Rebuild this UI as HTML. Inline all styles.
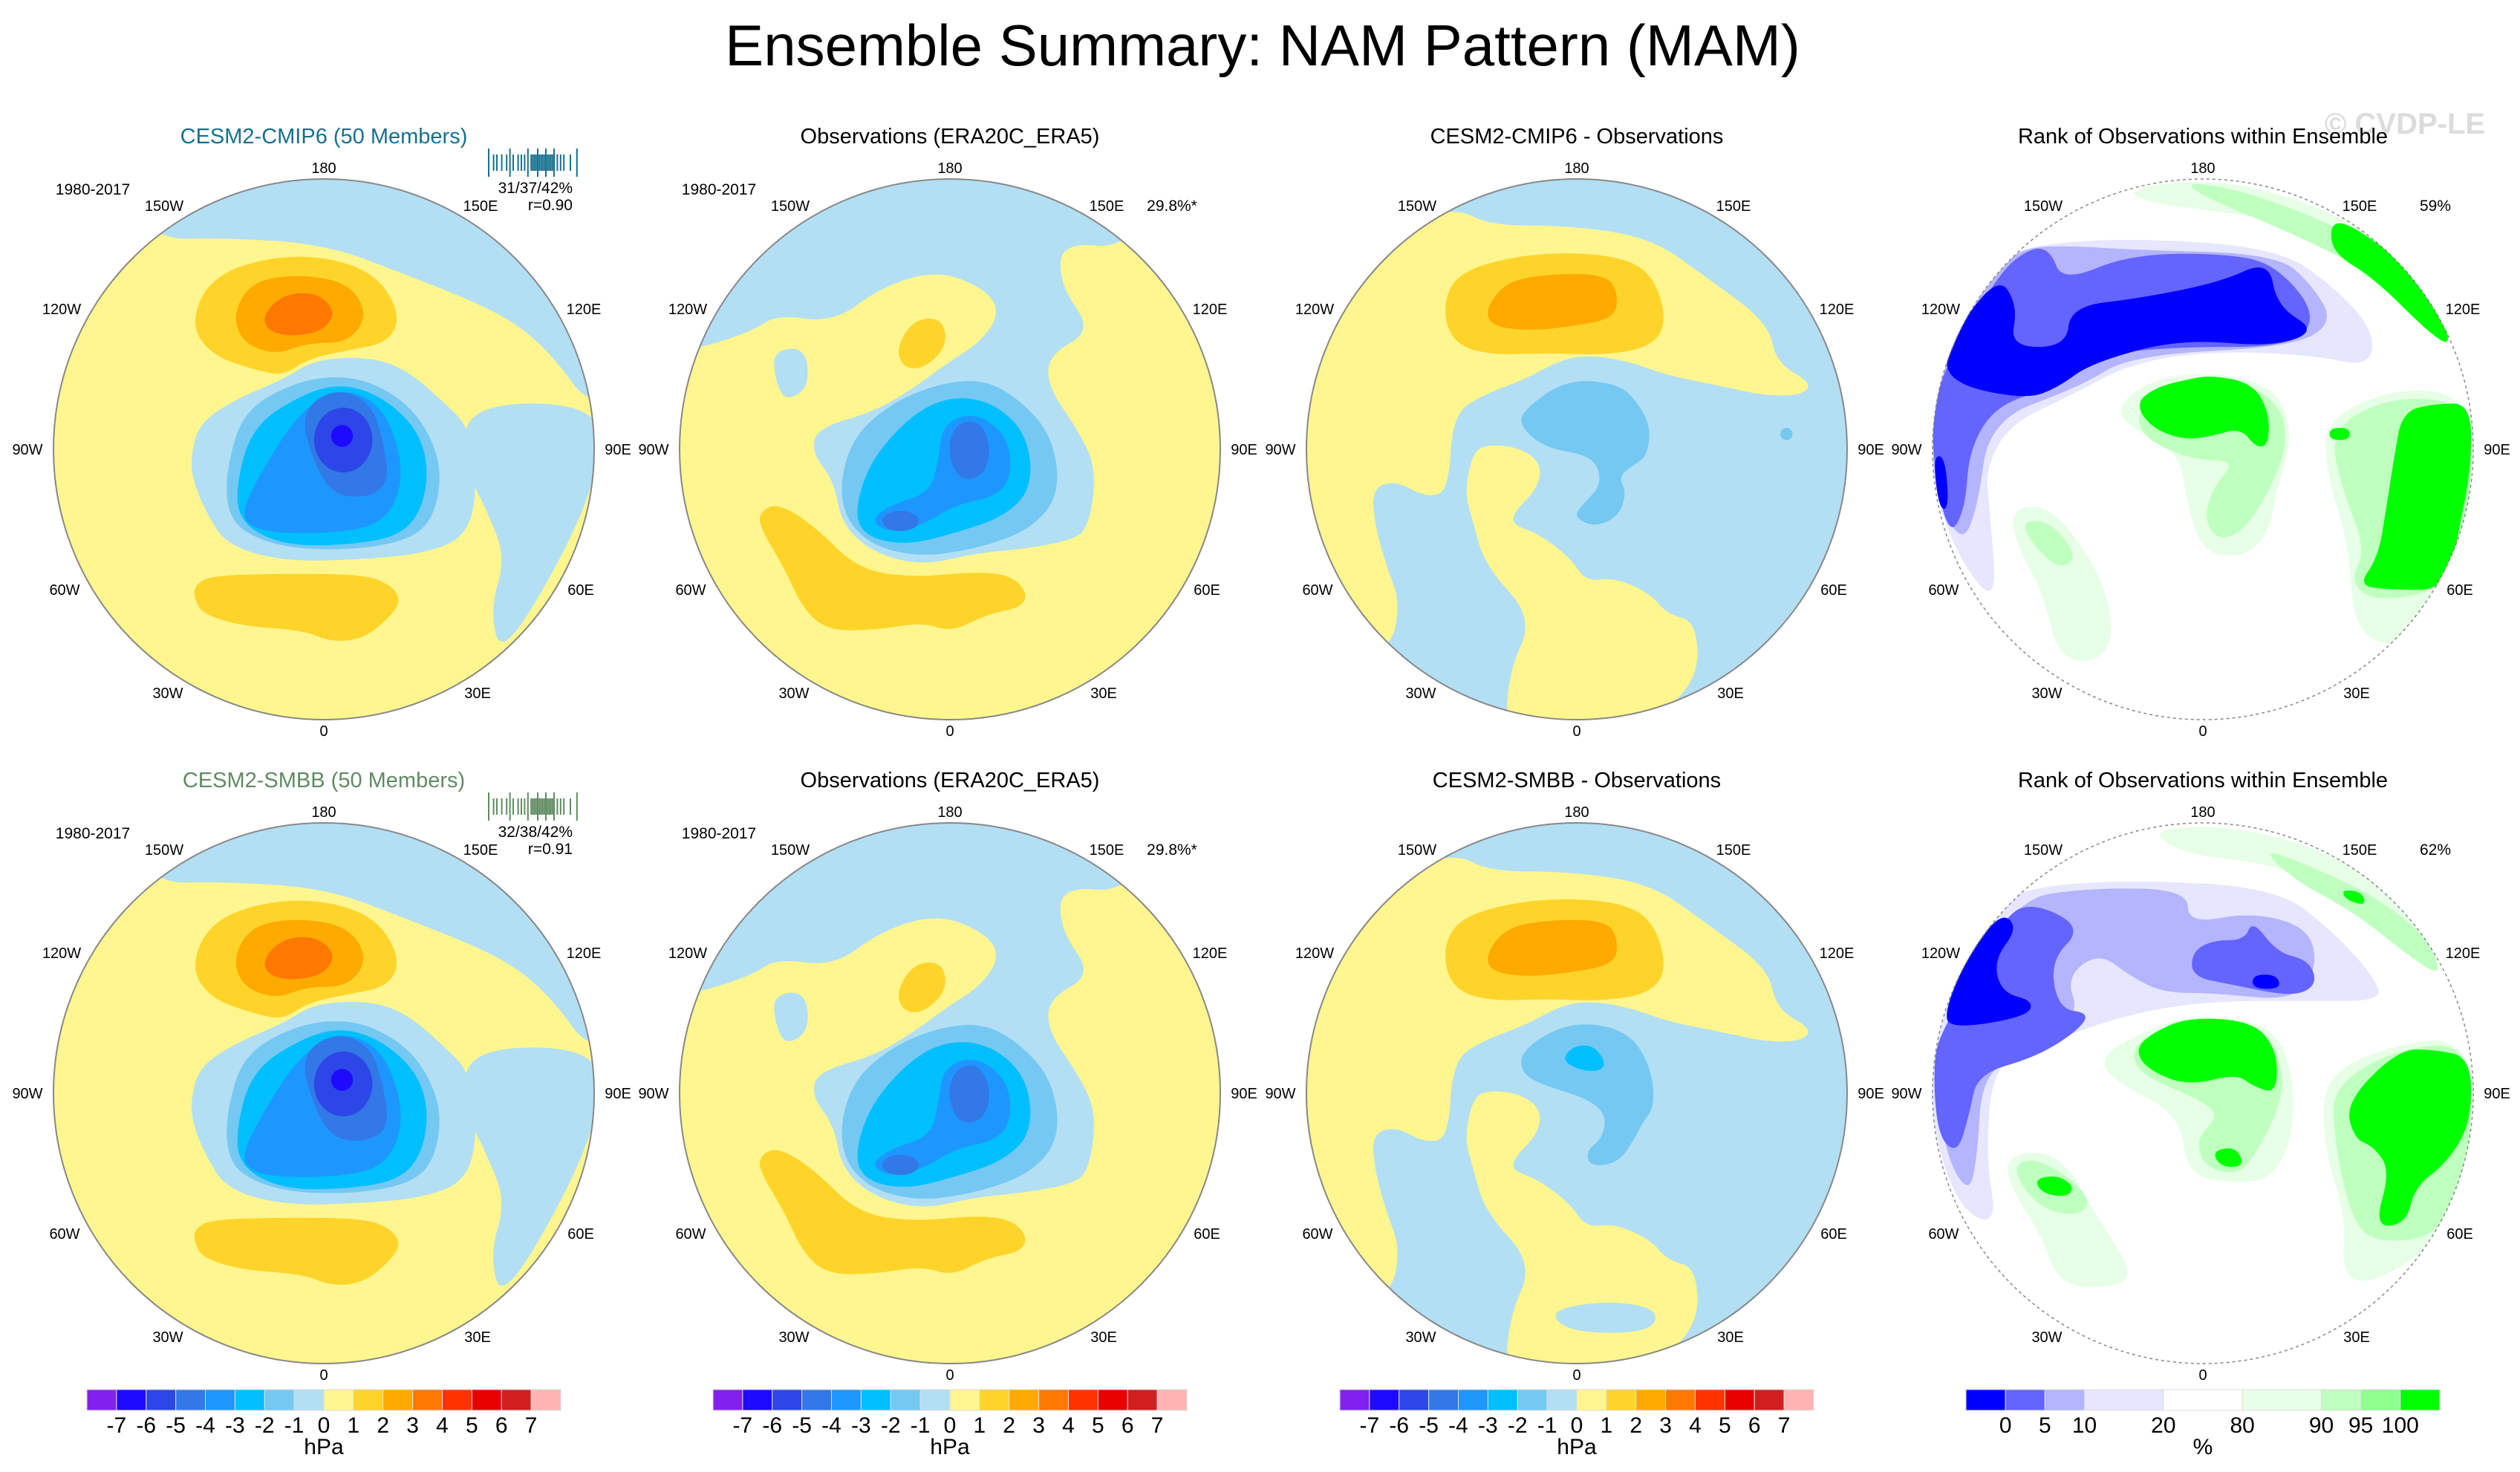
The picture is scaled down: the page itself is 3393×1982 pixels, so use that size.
<!DOCTYPE html>
<html><head><meta charset="utf-8"><style>
html,body{margin:0;padding:0;background:#fff;width:3393px;height:1982px;overflow:hidden}
svg{display:block}
text{font-family:"Liberation Sans",sans-serif;fill:#000}
.nar{font-family:"Liberation Sans Narrow","Liberation Sans",sans-serif}
</style></head><body>
<svg id="fig" xmlns="http://www.w3.org/2000/svg" width="3393" height="1982" viewBox="0 0 3393 1982" overflow="hidden">
<rect width="3393" height="1982" fill="#fff"/>
<text x="1700" y="88" font-size="78" text-anchor="middle">Ensemble Summary: NAM Pattern (MAM)</text>
<text x="3238" y="180" font-size="40" font-weight="bold" text-anchor="middle" style="fill:#dcdcdc">© CVDP-LE</text>
<g id="panels"></g>
</svg>
<script>
// ---- colour scales (data) ----
const hpaColors = ["#8220f0","#1e0aff","#2d46e8","#3278e6","#1e96ff","#00bfff","#75c8f2","#b3dff4","#fff68f","#ffd42a","#ffaa00","#ff7800","#ff3200","#e60000","#d21e1e","#ffb4b4"];
const hpaLabels = ["-7","-6","-5","-4","-3","-2","-1","0","1","2","3","4","5","6","7"];
const rankColors = ["#0000ff","#6464ff","#b4b4ff","#e6e6ff","#ffffff","#e6ffe6","#bfffbf","#8fff8f","#00ff00"];
const rankWidths = [1,1,1,2,2,2,1,1,1];
const rankLabels = ["0","5","10","20","80","90","95","100"];
const C = {y:"#fff68f",o1:"#ffd42a",o2:"#ffaa00",o3:"#ff7800",b0:"#b3dff4",b1:"#75c8f2",b2:"#00bfff",b3:"#1e96ff",b4:"#3278e6",b5:"#2d46e8",b6:"#1e0aff",
  l0:"#e6e6ff",l1:"#b4b4ff",l2:"#6464ff",l3:"#0000ff",g0:"#e6ffe6",g1:"#bfffbf",g3:"#00ff00"};

// ---- field shapes, in zoom-crop coordinates ----
const shapesModel = [
 {bg:"y"},
 ["b0",[380,335,200,150,800,-100,1600,0,1600,740,1450,740,1380,640,1300,560,1200,500,1000,420,800,345,540,330]],
 ["b0",[1150,740,1480,740,1480,900,1400,1100,1240,1370,1210,1250,1250,1120,1200,1000,1180,960,1150,900]],
 ["b0",[470,880,490,790,580,730,700,680,780,630,920,625,1010,660,1100,740,1160,800,1180,960,1150,1070,1050,1110,900,1125,700,1130,560,1090,510,1010,480,940]],
 ["b1",[560,900,600,760,720,690,830,670,930,690,1030,760,1090,880,1080,1000,1030,1070,900,1100,720,1100,600,1060,560,1000]],
 ["b2",[580,960,620,800,740,720,840,690,940,720,1030,800,1060,900,1040,1010,980,1070,850,1090,700,1090,600,1040]],
 ["b3",[600,1000,650,900,740,760,840,700,940,740,990,860,990,960,940,1040,820,1060,680,1060,610,1040]],
 ["b4",[740,760,830,700,920,740,950,850,960,930,920,970,830,970,780,900]],
 ["e","b5",848,830,72,80],["e","b6",845,820,27,27],
 ["o1",[470,540,520,430,650,380,800,375,930,420,990,520,960,590,850,610,760,630,700,670,640,660,520,620]],
 ["o2",[575,520,620,440,730,420,860,440,910,520,860,590,760,590,680,620,600,590]],
 ["o3",[650,520,700,470,780,465,830,510,800,560,720,575,660,560]],
 ["o1",[480,1190,520,1165,700,1160,900,1162,970,1190,990,1230,960,1270,900,1320,820,1330,750,1300,600,1290,500,1260,480,1220]]
];
const shapesObs = [
 {bg:"y"},
 ["b0",[100,610,180,600,300,560,360,520,500,540,620,450,760,410,880,460,910,520,860,590,780,640,700,700,600,760,460,800,445,860,500,930,520,1040,600,1110,720,1140,850,1110,960,1100,1080,1080,1130,1050,1150,900,1100,800,1030,700,1030,620,1140,560,1060,450,1060,340,1240,360,1500,0,0,0]],
 ["b0",[350,610,430,600,440,700,380,735,355,680]],
 ["o1",[655,600,700,530,770,530,780,600,720,655,670,650]],
 ["o1",[315,1010,360,985,450,1040,560,1150,700,1170,850,1155,940,1165,980,1210,960,1245,880,1260,790,1305,720,1280,600,1300,480,1300,420,1240,380,1150,320,1050]],
 ["b1",[510,980,540,830,640,740,760,690,870,680,960,730,1040,820,1060,960,990,1050,850,1100,700,1120,570,1080]],
 ["b2",[550,1010,590,880,700,760,800,720,900,740,980,820,990,950,920,1020,800,1060,680,1090,580,1070]],
 ["b3",[590,1030,640,990,740,960,760,870,770,790,850,760,930,820,940,920,900,970,800,990,720,1040,640,1060]],
 ["b4",[780,860,800,790,860,780,890,850,870,920,810,930]],
 ["e","b4",665,1030,45,25]
];
const diffBase = [
 {bg:"b0"},
 ["y",[480,255,560,300,760,300,960,330,1100,430,1250,540,1270,640,1360,690,1330,720,1240,720,1150,700,1000,670,920,640,820,620,740,630,650,680,540,720,470,770,460,960,400,970,330,930,270,950,280,1050,310,1150,340,1230,320,1340,250,1340,60,1100,40,800,100,450,300,300]],
 ["y",[520,860,560,840,640,850,690,890,680,950,620,1010,620,1040,680,1060,760,1120,800,1180,870,1170,960,1210,1000,1260,1075,1280,1075,1440,900,1560,600,1560,610,1400,670,1270,550,1140,520,1030,500,960]],
 ["o1",[445,500,480,420,600,380,750,365,900,380,970,430,1000,540,960,600,850,620,700,615,560,620,470,590]],
 ["o2",[550,510,600,440,700,420,850,420,880,470,870,530,760,550,660,560,570,550]]
];
const shapesDiff1 = diffBase.concat([
 ["b1",[640,760,750,680,880,690,930,740,960,800,950,870,920,890,880,920,900,960,880,1020,820,1045,770,1020,790,990,840,940,820,870,700,850,640,800]],
 ["e","b1",1295,815,15,15]
]);
const shapesDiff2 = diffBase.concat([
 ["b1",[640,740,760,670,900,690,960,780,970,880,940,920,920,960,880,1020,810,1030,800,990,840,960,850,900,800,860,700,830,640,800]],
 ["b2",[740,765,770,730,820,730,850,775,830,795,780,790]],
 ["b0",[705,1385,850,1360,980,1380,960,1440,760,1440]]
]);
const shapesRank1 = [
 {bg:"white"},
 ["l0",[330,350,600,330,960,355,1100,450,1200,560,1190,650,1050,620,800,610,600,640,450,720,300,790,240,900,250,1000,270,1250,160,1100,100,900,100,600,200,420]],
 ["l1",[330,355,450,350,600,360,960,370,1050,450,1100,540,1000,600,600,620,470,700,250,780,220,1000,180,1090,110,950,110,700,250,420]],
 ["l2",[350,355,400,360,430,440,600,370,850,370,960,400,1060,520,1000,600,700,600,520,620,420,700,270,740,200,850,190,1000,150,1070,110,900,110,700,270,420]],
 ["l3",[270,420,320,500,300,600,440,600,450,500,620,480,820,440,940,385,960,500,1060,560,950,600,720,580,500,640,420,700,340,730,150,690,140,600]],
 ["l3",[110,870,140,870,150,1000,125,1000]],
 ["g0",[600,210,730,190,900,200,1130,280,1300,410,1380,540,1260,500,1050,300,850,270,620,240]],
 ["g0",[560,750,650,680,800,660,960,700,1000,820,960,950,940,1060,880,1120,780,1110,740,1000,720,860,600,800]],
 ["g0",[1080,780,1250,700,1440,720,1440,1000,1380,1200,1260,1350,1150,1300,1140,1100,1080,900]],
 ["g0",[300,1000,400,990,520,1150,560,1300,520,1380,420,1370,380,1200,320,1100]],
 ["g1",[730,190,880,215,1080,290,1250,380,1370,520,1340,560,1200,420,1000,320,780,230]],
 ["g1",[620,740,700,700,850,680,960,730,990,830,940,960,880,1050,820,1080,780,1030,800,950,860,880,750,880,620,820]],
 ["g1",[1090,800,1250,720,1440,740,1440,1000,1380,1200,1200,1230,1140,1180,1180,1100,1120,950]],
 ["g1",[330,1030,400,1030,470,1120,420,1150,350,1080]],
 ["g3",[1090,300,1130,290,1260,380,1370,530,1390,600,1330,560,1200,430,1100,370]],
 ["g3",[610,740,660,700,740,680,800,670,900,690,940,760,940,840,910,850,870,800,800,820,730,830,650,800]],
 ["g3",[1270,760,1350,740,1440,740,1440,900,1410,1050,1380,1200,1240,1200,1160,1190,1210,1120,1230,1000,1250,870]],
 ["g3",[1090,800,1140,800,1140,830,1090,830]]
];
const shapesRank2 = [
 {bg:"white"},
 ["l0",[330,340,600,320,960,340,1100,450,1200,560,1220,620,1050,620,800,620,600,650,400,720,260,770,240,1000,270,1180,170,1130,100,900,100,600,200,420]],
 ["l1",[300,370,500,340,740,345,740,430,900,400,1040,440,1060,540,1000,620,800,600,680,600,600,560,520,500,440,560,470,650,400,700,300,760,230,820,220,1000,200,1100,140,1000,110,760]],
 ["l2",[290,400,370,380,480,440,400,520,420,640,500,650,460,700,360,760,220,800,200,900,170,1000,120,950,110,760,140,680]],
 ["l2",[750,500,800,470,880,470,900,420,960,500,1040,520,1060,580,1000,610,850,580,750,560]],
 ["l3",[280,400,320,440,260,520,280,600,360,620,340,660,150,690,140,640,200,500]],
 ["l3",[900,555,960,555,970,590,900,590]],
 ["g0",[640,200,800,185,1000,220,1250,330,1380,480,1350,500,1200,380,950,280,740,260]],
 ["g0",[520,760,620,700,760,650,950,680,1000,800,1000,950,950,1060,850,1070,740,1050,720,900,560,820]],
 ["g0",[1070,820,1200,740,1440,700,1440,1000,1380,1200,1200,1320,1120,1300,1130,1150,1080,1000]],
 ["g0",[290,1000,420,990,520,1160,610,1300,540,1330,420,1320,380,1200,300,1080]],
 ["g1",[920,240,1050,290,1200,360,1330,460,1370,560,1300,520,1150,400,1000,320]],
 ["g1",[600,740,660,690,930,680,980,800,960,900,900,1010,860,1050,780,1030,760,960,820,900,760,860,620,800]],
 ["g1",[1100,830,1250,740,1440,720,1440,1000,1370,1200,1200,1220,1140,1150,1100,950]],
 ["g1",[310,1020,380,1010,500,1100,480,1150,390,1140,330,1080]],
 ["g3",[1120,345,1170,350,1180,385,1130,370]],
 ["g3",[610,740,650,700,740,660,900,670,960,740,960,850,900,830,860,800,740,830,640,790]],
 ["g3",[800,990,860,980,880,1030,820,1030]],
 ["g3",[1130,870,1260,740,1350,740,1440,760,1440,920,1380,1020,1300,1080,1280,1170,1200,1180,1240,1040,1200,980,1150,960]],
 ["g3",[360,1060,420,1050,460,1080,440,1105,380,1095]]
];
// ---- panel layout ----
const colX = [436,1279,2123,2966];
const rowY = [605,1472];
const R = 364, K = 1.835;
const panels = [
 {row:0,col:0,title:"CESM2-CMIP6 (50 Members)",tcol:"#17708f",shapes:shapesModel,cz:[800,853],years:true,stats:["31/37/42%","r=0.90"],strip:"#17708f"},
 {row:0,col:1,title:"Observations (ERA20C_ERA5)",shapes:shapesObs,cz:[787,853],years:true,pct:"29.8%*"},
 {row:0,col:2,title:"CESM2-CMIP6 - Observations",shapes:shapesDiff1,cz:[777,853]},
 {row:0,col:3,title:"Rank of Observations within Ensemble",shapes:shapesRank1,cz:[777,853],pct:"59%",rank:true},
 {row:1,col:0,title:"CESM2-SMBB (50 Members)",tcol:"#5f8c62",shapes:shapesModel,cz:[800,853],years:true,stats:["32/38/42%","r=0.91"],strip:"#5f8c62"},
 {row:1,col:1,title:"Observations (ERA20C_ERA5)",shapes:shapesObs,cz:[787,853],years:true,pct:"29.8%*"},
 {row:1,col:2,title:"CESM2-SMBB - Observations",shapes:shapesDiff2,cz:[777,848]},
 {row:1,col:3,title:"Rank of Observations within Ensemble",shapes:shapesRank2,cz:[777,848],pct:"62%",rank:true}
];
const lonLabels = [["180",0,-379],["150W",-215,-328],["150E",211,-328],["120W",-353,-189],["120E",350,-189],["90W",-399,0],["90E",396,0],["60W",-349,189],["60E",346,189],["30W",-210,328],["30E",207,328],["0",0,379]];
const stripTicks = [0,6,10,16,22,26,30,36,40,44,48,52,54,56,58,60,62,64,66,68,70,72,74,76,78,80,84,88,92,100,108];

const NS="http://www.w3.org/2000/svg";
const root=document.getElementById("panels");
function mk(tag,attrs,parent){const e=document.createElementNS(NS,tag);for(const k in attrs)e.setAttribute(k,attrs[k]);(parent||root).appendChild(e);return e;}
function col(k){return C[k]||k;}
function smoothPath(pts){
  const n=pts.length/2; const P=[];
  for(let j=0;j<n;j++)P.push([pts[2*j],pts[2*j+1]]);
  const mid=(a,b)=>[(a[0]+b[0])/2,(a[1]+b[1])/2];
  let m=mid(P[n-1],P[0]);
  let d=`M${m[0]},${m[1]}`;
  for(let j=0;j<n;j++){const nx=P[(j+1)%n];const mm=mid(P[j],nx);d+=` Q${P[j][0]},${P[j][1]} ${mm[0]},${mm[1]}`;}
  return d+" Z";
}

panels.forEach((p,i)=>{
  const cx=colX[p.col], cy=rowY[p.row];
  const g=mk("g",{});
  
  
  const cp=mk("clipPath",{id:"clip"+i},g);
  mk("circle",{cx:cx,cy:cy,r:R},cp);
  const fg=mk("g",{"clip-path":"url(#clip"+i+")"},g);
  
  
  const inner=mk("g",{transform:`translate(${cx},${cy}) scale(${1/K}) translate(${-p.cz[0]},${-p.cz[1]})`},fg);
  p.shapes.forEach(s=>{
    if(s.bg){mk("circle",{cx:p.cz[0],cy:p.cz[1],r:R*K+6,fill:col(s.bg)},inner);return;}
    if(s[0]==="e"){mk("ellipse",{cx:s[2],cy:s[3],rx:s[4],ry:s[5],fill:col(s[1])},inner);return;}
    mk("path",{d:smoothPath(s[1]),fill:col(s[0])},inner);
  });
  const ring=mk("circle",{cx:cx,cy:cy,r:R,fill:"none",stroke:"#888","stroke-width":p.rank?1.5:2,"stroke-dasharray":p.rank?"4 4":"none"},g);
  
  
  lonLabels.forEach(l=>{
    const t=mk("text",{x:cx+l[1],y:cy+l[2]+7,"font-size":20,"text-anchor":"middle"},g);
    
    
    t.textContent=l[0];
  });
  const tt=mk("text",{x:cx,y:cy-412,"font-size":29,"text-anchor":"middle"},g);
  
  
  if(p.tcol)tt.setAttribute("style","fill:"+p.tcol);
  tt.textContent=p.title;
  if(p.years){
    const y=mk("text",{x:cx-311,y:cy-343,"font-size":21,"text-anchor":"middle"},g);
    
    
    y.textContent="1980-2017";
  }
  if(p.pct){
    const t=mk("text",{x:cx+(p.rank?313:299),y:cy-321,"font-size":21,"text-anchor":"middle"},g);
    
    
    t.textContent=p.pct;
  }
  if(p.stats){
    const x0=cx+221;
    const s1=mk("text",{x:cx+335,y:cy-345,"font-size":21,"text-anchor":"end"},g);
    
    
    s1.textContent=p.stats[0];
    const s2=mk("text",{x:cx+335,y:cy-322,"font-size":21,"text-anchor":"end"},g);
    
    
    s2.textContent=p.stats[1];
    stripTicks.forEach((v,j)=>{
      const r=mk("rect",{x:x0+v*1.1,y:cy-405+(j%5===0?0:8),width:2,height:j%5===0?38:22,fill:p.strip},g);
      
      
    });
  }
});

// ---- colour bars ----
function hpaBar(cx){
  const g=mk("g",{});
  
  
  const w=638, x0=cx-w/2, bw=w/hpaColors.length;
  hpaColors.forEach((c,i)=>{
    const r=mk("rect",{x:x0+i*bw,y:1871,width:bw,height:28,fill:c,stroke:"#ddd","stroke-width":1},g);
    
    
  });
  hpaLabels.forEach((l,i)=>{
    const t=mk("text",{x:x0+(i+1)*bw,y:1929,"font-size":30,"text-anchor":"middle",class:"nar"},g);
    
    
    t.textContent=l;
  });
  const u=mk("text",{x:cx,y:1958,"font-size":30,"text-anchor":"middle",class:"nar"},g);
  
  
  u.textContent="hPa";
}
[0,1,2].forEach(i=>hpaBar(colX[i]));
(function(){
  const cx=colX[3];
  const g=mk("g",{});
  
  
  const w=638, x0=cx-w/2, tot=rankWidths.reduce((a,b)=>a+b,0), u=w/tot;
  let x=x0; const bounds=[];
  rankColors.forEach((c,i)=>{
    const r=mk("rect",{x:x,y:1871,width:rankWidths[i]*u,height:28,fill:c,stroke:"#ddd","stroke-width":1},g);
    
    
    x+=rankWidths[i]*u; bounds.push(x);
  });
  rankLabels.forEach((l,i)=>{
    const t=mk("text",{x:bounds[i],y:1929,"font-size":30,"text-anchor":"middle",class:"nar"},g);
    
    
    t.textContent=l;
  });
  const t=mk("text",{x:cx,y:1958,"font-size":30,"text-anchor":"middle",class:"nar"},g);
  
  
  t.textContent="%";
})();
</script>
</body></html>
